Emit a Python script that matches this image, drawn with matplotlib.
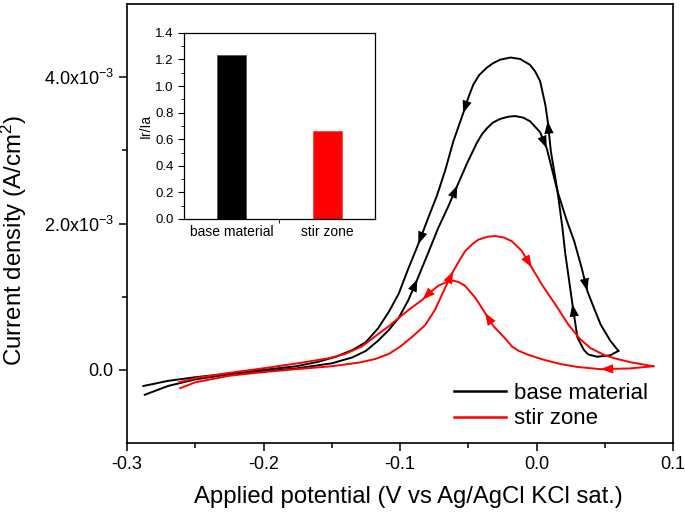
import matplotlib

matplotlib.use("Agg")

import matplotlib.pyplot as plt
from matplotlib.ticker import FuncFormatter, MultipleLocator, FixedLocator

plt.rcParams["font.family"] = ["Liberation Sans", "DejaVu Sans"]
plt.rcParams["mathtext.fontset"] = "custom"
plt.rcParams["mathtext.rm"] = "Liberation Sans"
plt.rcParams["mathtext.it"] = "Liberation Sans:italic"

# Cyclic voltammetry, potential in V, current density in units of 1e-3 A/cm2
BM_FWD_E = [-0.287, -0.27, -0.25, -0.225, -0.2, -0.176, -0.15, -0.135, -0.125,
            -0.116, -0.108, -0.101, -0.094, -0.0873, -0.08, -0.072, -0.065,
            -0.058, -0.051, -0.0438, -0.04, -0.0365, -0.032, -0.0267, -0.021,
            -0.0158, -0.010, -0.0048, 0.0026, 0.0075, 0.0154, 0.022, 0.0276,
            0.033, 0.0372, 0.042, 0.047, 0.054, 0.060]
BM_FWD_I = [-0.34, -0.22, -0.13, -0.06, -0.02, 0.02, 0.09, 0.17, 0.26,
            0.40, 0.55, 0.71, 0.95, 1.24, 1.57, 1.94, 2.22,
            2.52, 2.82, 3.10, 3.22, 3.30, 3.38, 3.43, 3.46,
            3.47, 3.45, 3.40, 3.25, 3.03, 2.44, 2.05, 1.76,
            1.40, 1.08, 0.85, 0.62, 0.40, 0.26]
BM_REV_E = [0.060, 0.054, 0.0445, 0.038, 0.0348, 0.030, 0.0263, 0.0239, 0.021,
            0.019, 0.0154, 0.0105, 0.0082, 0.0065, 0.0026, -0.001, -0.0048,
            -0.012, -0.019, -0.0267, -0.032, -0.0365, -0.042, -0.0463, -0.050,
            -0.0537, -0.061, -0.067, -0.073, -0.0793, -0.0866, -0.094, -0.101,
            -0.108, -0.116, -0.125, -0.135, -0.147, -0.16, -0.176, -0.2,
            -0.225, -0.25, -0.27, -0.288]
BM_REV_I = [0.26, 0.20, 0.18, 0.21, 0.27, 0.44, 0.90, 1.22, 1.60,
            1.94, 2.44, 2.99, 3.40, 3.62, 3.95, 4.08, 4.17,
            4.25, 4.27, 4.24, 4.19, 4.13, 4.03, 3.90, 3.72,
            3.51, 3.12, 2.72, 2.38, 2.08, 1.72, 1.38, 1.04,
            0.80, 0.57, 0.38, 0.27, 0.18, 0.11, 0.05, 0.0,
            -0.05, -0.10, -0.15, -0.22]

SZ_FWD_E = [-0.261, -0.25, -0.225, -0.2, -0.176, -0.15, -0.13, -0.118, -0.108,
            -0.099, -0.09, -0.0817, -0.0744, -0.067, -0.061, -0.057, -0.0524,
            -0.047, -0.0426, -0.036, -0.0304, -0.024, -0.0182, -0.0109, -0.0035,
            0.0038, 0.0136, 0.0233, 0.032, 0.0394, 0.05, 0.059, 0.07, 0.0857]
SZ_FWD_I = [-0.25, -0.17, -0.08, -0.03, 0.01, 0.05, 0.10, 0.15, 0.22,
            0.33, 0.47, 0.61, 0.82, 1.12, 1.35, 1.48, 1.62,
            1.72, 1.78, 1.82, 1.83, 1.81, 1.76, 1.63, 1.40,
            1.17, 0.90, 0.62, 0.42, 0.30, 0.20, 0.15, 0.10, 0.05]
SZ_REV_E = [0.0857, 0.0686, 0.047, 0.030, 0.0176, 0.005, -0.0065, -0.013,
            -0.018, -0.022, -0.027, -0.0316, -0.0377, -0.045, -0.0524, -0.057,
            -0.061, -0.066, -0.072, -0.078, -0.0835, -0.093, -0.101, -0.108,
            -0.116, -0.128, -0.14, -0.152, -0.175, -0.201, -0.225, -0.249,
            -0.262]
SZ_REV_I = [0.05, 0.02, 0.01, 0.04, 0.08, 0.14, 0.21, 0.26,
            0.32, 0.41, 0.51, 0.60, 0.78, 0.99, 1.15, 1.20,
            1.22, 1.20, 1.15, 1.06, 0.96, 0.83, 0.71, 0.60,
            0.49, 0.32, 0.22, 0.16, 0.09, 0.02, -0.04, -0.11,
            -0.17]

# indices of the points where a direction arrow sits
BM_FWD_ARROWS = [13, 17, 29, 34]
BM_REV_ARROWS = [6, 12, 25, 30]
SZ_FWD_ARROWS = [14, 24]
SZ_REV_ARROWS = [2, 12, 20]

# inset bar chart
BAR_LABELS = ["base material", "stir zone"]
BAR_VALUES = [1.235, 0.66]
BAR_COLORS = ["black", "red"]


def draw_scan(ax, e, i, arrows, color, label=None):
    y = [v * 1e-3 for v in i]
    ax.plot(e, y, color=color, lw=1.4, label=label)
    for k in arrows:
        ax.annotate(
            "",
            xy=(e[k], y[k]),
            xytext=(e[k - 1], y[k - 1]),
            arrowprops=dict(
                arrowstyle="-|>,head_length=0.75,head_width=0.28",
                color=color,
                lw=0,
                shrinkA=0,
                shrinkB=0,
                mutation_scale=12,
            ),
        )


def y_label_fmt(v, pos):
    if abs(v) < 1e-9:
        return "0.0"
    return f"{v * 1e3:.1f}x10$^{{-3}}$"


def main() -> None:
    fig = plt.figure(figsize=(6.85, 5.14), dpi=100)
    ax = fig.add_axes([0.1854, 0.138, 0.7971, 0.854])

    draw_scan(ax, BM_FWD_E, BM_FWD_I, BM_FWD_ARROWS, "black", "base material")
    draw_scan(ax, BM_REV_E, BM_REV_I, BM_REV_ARROWS, "black")
    draw_scan(ax, SZ_FWD_E, SZ_FWD_I, SZ_FWD_ARROWS, "red", "stir zone")
    draw_scan(ax, SZ_REV_E, SZ_REV_I, SZ_REV_ARROWS, "red")

    ax.set_xlim(-0.3, 0.1)
    ax.set_ylim(-1.0e-3, 5.0e-3)
    ax.xaxis.set_major_locator(MultipleLocator(0.1))
    ax.xaxis.set_minor_locator(MultipleLocator(0.05))
    ax.yaxis.set_major_locator(FixedLocator([0.0, 2.0e-3, 4.0e-3]))
    ax.yaxis.set_minor_locator(FixedLocator([1.0e-3, 3.0e-3]))
    ax.xaxis.set_major_formatter(FuncFormatter(lambda v, p: f"{v:.1f}"))
    ax.yaxis.set_major_formatter(FuncFormatter(y_label_fmt))
    ax.tick_params(which="major", direction="out", length=6, width=1.1, labelsize=13)
    ax.tick_params(which="minor", direction="out", length=3.5, width=1.1)
    for spine in ax.spines.values():
        spine.set_linewidth(1.2)

    ax.set_xlabel("Applied potential (V vs Ag/AgCl KCl sat.)", fontsize=17.2)
    ax.set_ylabel("Current density (A/cm$^{2}$)", fontsize=17.3)
    ax.xaxis.set_label_coords(0.515, -0.097)
    ax.yaxis.set_label_coords(-0.18, 0.462)

    ax.legend(
        loc="center left",
        bbox_to_anchor=(0.599, 0.084),
        frameon=False,
        fontsize=16,
        handlelength=2.35,
        handletextpad=0.35,
        labelspacing=0.2,
        borderpad=0,
        borderaxespad=0,
    )
    for line in ax.get_legend().get_lines():
        line.set_linewidth(1.8)

    # inset with the ratio of peak currents
    inset = fig.add_axes([0.2686, 0.574, 0.2788, 0.362])
    positions = list(range(len(BAR_LABELS)))
    inset.bar(positions, BAR_VALUES, width=0.3, color=BAR_COLORS,
              edgecolor=["#555555", "#ff4444"], linewidth=0.6)
    inset.set_xlim(-0.5, 1.5)
    inset.set_ylim(0, 1.4)
    inset.set_xticks(positions)
    inset.set_xticklabels(BAR_LABELS, fontsize=10)
    inset.xaxis.set_minor_locator(FixedLocator([0.5]))
    inset.yaxis.set_major_locator(MultipleLocator(0.2))
    inset.yaxis.set_minor_locator(MultipleLocator(0.1))
    inset.yaxis.set_major_formatter(FuncFormatter(lambda v, p: f"{v:.1f}"))
    inset.tick_params(axis="x", which="major", length=0, pad=4)
    inset.tick_params(axis="x", which="minor", length=3, direction="out")
    inset.tick_params(axis="y", which="major", length=4, direction="out", labelsize=9.5)
    inset.tick_params(axis="y", which="minor", length=2, direction="out")
    inset.set_ylabel("Ir/Ia", fontsize=10, labelpad=2)
    for spine in inset.spines.values():
        spine.set_linewidth(0.9)

    fig.savefig("out.png", dpi=100)
    plt.close(fig)


if __name__ == "__main__":
    main()
